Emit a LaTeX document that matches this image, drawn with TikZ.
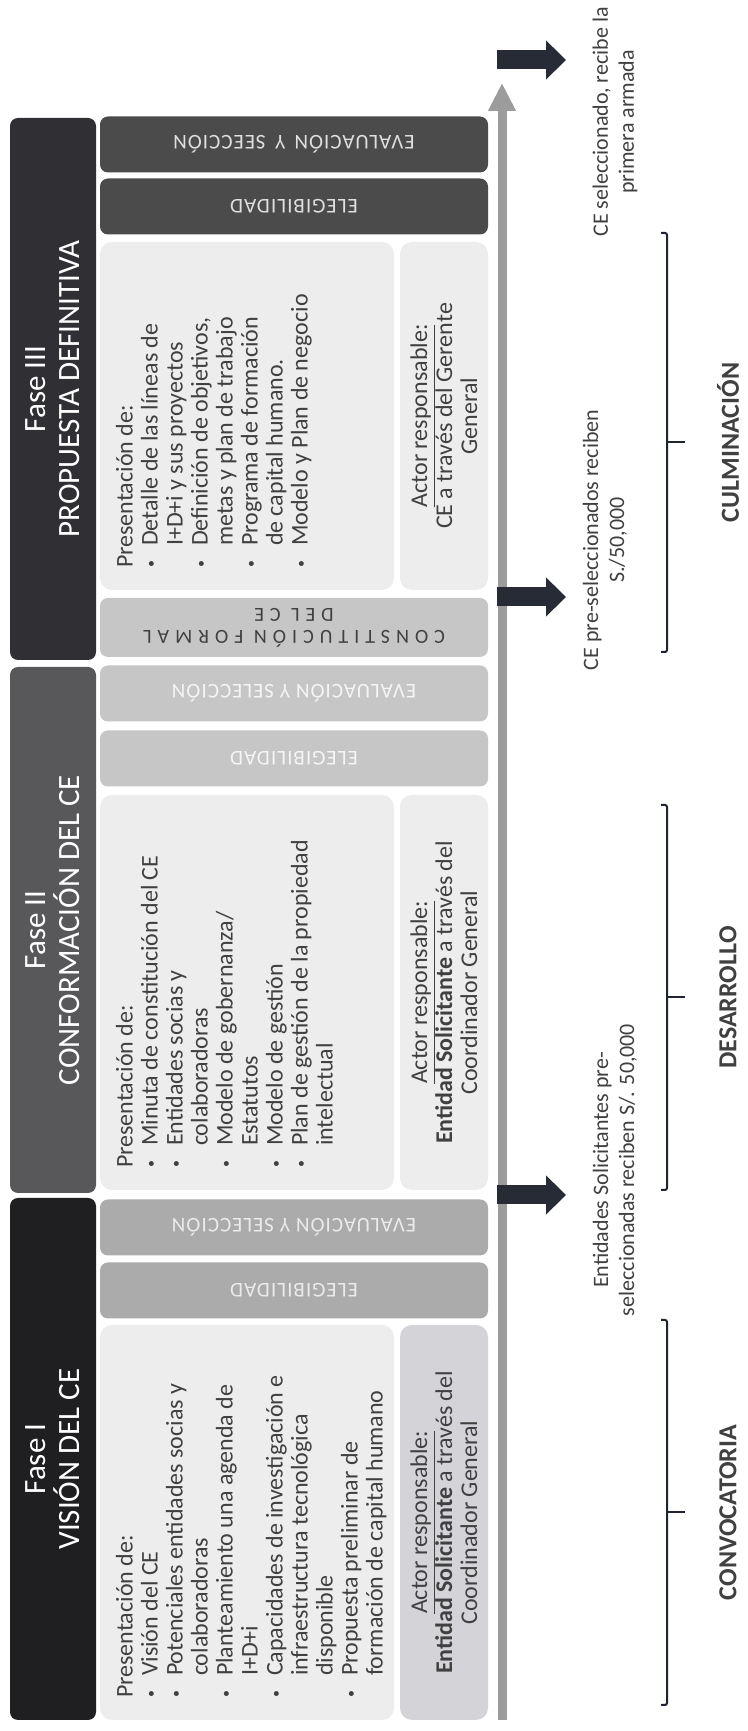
\documentclass[tikz,border=0pt]{standalone}
\usepackage{fontspec}
\setmainfont{Carlito}
\newfontfamily\trackfont[LetterSpace=5]{Carlito}
\newfontfamily\widetrackfont[LetterSpace=30]{Carlito}
\usetikzlibrary{arrows.meta}

\newcommand{\bul}{\makebox[11pt][l]{\raisebox{.2ex}{\scriptsize\textbullet}}}
\newcommand{\nobul}{\hspace*{11pt}}

\begin{document}
\begin{tikzpicture}[x=0.5pt,y=0.5pt,
phasebox/.style={rounded corners=4pt, text=white, align=center, inner sep=0pt, rotate=90, minimum height=43pt, font=\fontsize{15.5}{17}\selectfont},
stepbox/.style={rounded corners=4pt, align=center, inner sep=0pt, rotate=180, minimum width=194pt, minimum height=28pt, font=\trackfont\fontsize{10.5}{11}\selectfont},
contbox/.style={rounded corners=6pt, fill=contgray, inner sep=0pt, minimum width=147pt},
bodytext/.style={rotate=90, anchor=north west, align=left, inner sep=0pt, text=textgray, font=\fontsize{12}{12.5}\selectfont},
actbox/.style={rounded corners=6pt, rotate=90, align=center, inner sep=0pt, minimum height=44pt, text=textgray, font=\fontsize{12}{12.5}\selectfont},
note/.style={rotate=90, align=center, inner sep=0pt, text=textgray, font=\fontsize{11}{13}\selectfont},
stagename/.style={rotate=90, inner sep=0pt, text=textgray, font=\bfseries\fontsize{13}{15}\selectfont},
timeaxis/.style={line width=4.5pt, draw=axisgray, -{Triangle[length=14pt,width=13pt]}},
payarrow/.style={line width=9.5pt, draw=arrowdark, -{Triangle[length=10pt,width=19pt]}},
bracket/.style={line width=1pt, draw=bracketdark, rounded corners=1pt}]

\definecolor{phaseone}{HTML}{1F1F22}
\definecolor{phasetwo}{HTML}{58585A}
\definecolor{phasethree}{HTML}{303034}
\definecolor{stepone}{HTML}{ABABAB}
\definecolor{steptwo}{HTML}{C6C6C6}
\definecolor{stepthree}{HTML}{4B4B4B}
\definecolor{contgray}{HTML}{EDEDED}
\definecolor{actgray}{HTML}{D3D3D8}
\definecolor{textgray}{HTML}{404040}
\definecolor{axisgray}{HTML}{9C9C9C}
\definecolor{arrowdark}{HTML}{262B35}
\definecolor{bracketdark}{HTML}{1F2430}

\path[fill=white] (0,0) rectangle (748,1731);

% fases
\node[phasebox, fill=phaseone, minimum width=261pt] (fase1) at (53,272) {Fase I\\VISIÓN DEL CE};
\node[phasebox, fill=phasetwo, minimum width=263pt] (fase2) at (53,801) {Fase II\\CONFORMACIÓN DEL CE};
\node[phasebox, fill=phasethree, minimum width=271pt] (fase3) at (53,1342) {Fase III\\PROPUESTA DEFINITIVA};

% pasos
\node[stepbox, fill=stepone, text=white!92!black] (eval1) at (294,503.5) {EVALUACIÓN Y SELECCIÓN};
\node[stepbox, fill=stepone, text=white!92!black] (eleg1) at (294,440.5) {ELEGIBILIDAD};
\node[stepbox, fill=steptwo, text=white!96!black] (eval2) at (294,1037.5) {EVALUACIÓN Y SELECCIÓN};
\node[stepbox, fill=steptwo, text=white!96!black] (eleg2) at (294,972.5) {ELEGIBILIDAD};
\node[stepbox, fill=steptwo, text=textgray, minimum height=29.5pt, font=\widetrackfont\fontsize{10}{11}\selectfont] (const) at (294,1103.5) {CONSTITUCIÓN FORMAL\\DEL CE};
\node[stepbox, fill=stepthree, text=white!88!black] (eval3) at (294,1586.5) {EVALUACIÓN \,Y\, SEECCIÓN};
\node[stepbox, fill=stepthree, text=white!88!black] (eleg3) at (294,1524.5) {ELEGIBILIDAD};

% Fase I
\node[contbox, minimum height=197.5pt] (cont1) at (247,208.5) {};
\node[bodytext] (list1) at ([xshift=8pt,yshift=11pt]cont1.south west) {Presentación de:\\
\bul Visión del CE\\
\bul Potenciales entidades socias y\\
\nobul colaboradoras\\
\bul Planteamiento una agenda de\\
\nobul I+D+i\\
\bul Capacidades de investigación e\\
\nobul infraestructura tecnológica\\
\nobul disponible\\
\bul Propuesta preliminar de\\
\nobul formación de capital humano};
\node[actbox, fill=actgray, minimum width=197.5pt] (actor1) at (444,208.5) {\underline{Actor responsable:}\\\textbf{Entidad Solicitante} a través del\\Coordinador General};

% Fase II
\node[contbox, minimum height=197.5pt] (cont2) at (247,738.5) {};
\node[bodytext] (list2) at ([xshift=8pt,yshift=11pt]cont2.south west) {Presentación de:\\
\bul Minuta de constitución del CE\\
\bul Entidades socias y\\
\nobul colaboradoras\\
\bul Modelo de gobernanza/\\
\nobul Estatutos\\
\bul Modelo de gestión\\
\bul Plan de gestión de la propiedad\\
\nobul intelectual};
\node[actbox, fill=contgray, minimum width=197.5pt] (actor2) at (444,738.5) {\underline{Actor responsable:}\\\textbf{Entidad Solicitante} a través del\\Coordinador General};

% Fase III
\node[contbox, minimum height=174pt] (cont3) at (247,1315) {};
\node[bodytext] (list3) at ([xshift=8pt,yshift=11pt]cont3.south west) {Presentación de:\\
\bul Detalle de las líneas de\\
\nobul I+D+i y sus proyectos\\
\bul Definición de objetivos,\\
\nobul metas y plan de trabajo\\
\bul Programa de formación\\
\nobul de capital humano.\\
\bul Modelo y Plan de negocio};
\node[actbox, fill=contgray, minimum width=174pt] (actor3) at (444,1315) {\underline{Actor responsable:}\\CE a través del Gerente\\General};

% linea de tiempo
\coordinate (axbot) at (502,11);
\coordinate (axtop) at (502,1648);
\draw[timeaxis] (axbot) -- (axtop);

\coordinate (pay1s) at (497,536);
\coordinate (pay1e) at (566,536);
\coordinate (pay2s) at (497,1134);
\coordinate (pay2e) at (566,1134);
\coordinate (pay3s) at (497,1671);
\coordinate (pay3e) at (566,1671);
\draw[payarrow] (pay1s) -- (pay1e);
\draw[payarrow] (pay2s) -- (pay2e);
\draw[payarrow] (pay3s) -- (pay3e);

\node[note] (pay1) at (615,561) {Entidades Solicitantes pre-\\seleccionadas reciben S/. 50,000};
\node[note] (pay2) at (605,1191) {CE pre-seleccionados reciben\\S./50,000};
\node[note] (pay3) at (615,1609) {CE seleccionado, recibe la\\primera armada};

% etapas
\coordinate (convtop) at (667,411);
\coordinate (convbot) at (667,26);
\coordinate (convmid) at (667,218.5);
\draw[bracket] (convtop) ++(-6,0) -- (convtop) -- (convbot) -- ++(-6,0);
\draw[bracket] (convmid) -- ++(18,0);
\node[stagename] (conv) at (728,218.5) {CONVOCATORIA};

\coordinate (desatop) at (667,926);
\coordinate (desabot) at (667,541);
\coordinate (desamid) at (667,733.5);
\draw[bracket] (desatop) ++(-6,0) -- (desatop) -- (desabot) -- ++(-6,0);
\draw[bracket] (desamid) -- ++(18,0);
\node[stagename] (desa) at (728,733.5) {DESARROLLO};

\coordinate (culmtop) at (667,1498);
\coordinate (culmbot) at (667,1079);
\coordinate (culmmid) at (667,1288.5);
\draw[bracket] (culmtop) ++(-6,0) -- (culmtop) -- (culmbot) -- ++(-6,0);
\draw[bracket] (culmmid) -- ++(18,0);
\node[stagename] (culm) at (728,1288.5) {CULMINACIÓN};

\end{tikzpicture}
\end{document}
